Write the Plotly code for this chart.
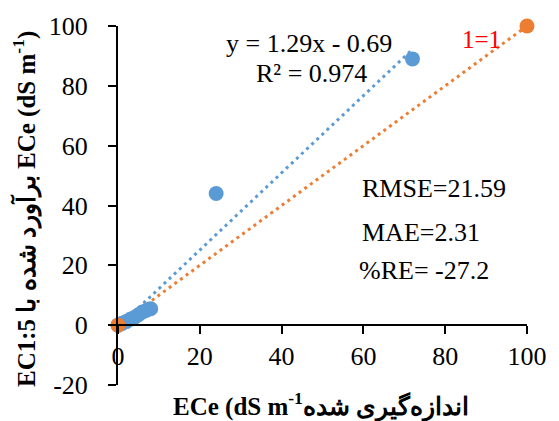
import plotly.graph_objects as go

# Data
measured = [0, 0.5, 1, 2, 3, 4, 5, 6, 7, 8, 24, 72]
estimated = [0, 0.3, 0.6, 1.2, 2.0, 2.6, 3.5, 4.4, 5.0, 5.5, 44, 89]
one_to_one_x = [0, 100]
one_to_one_y = [0, 100]
slope, intercept = 1.29, -0.69

x_ticks = [0, 20, 40, 60, 80, 100]
y_ticks = [-20, 0, 20, 40, 60, 80, 100]
y_tick_text = ["-20", "0", "20", "40", "60", "80", "100"]

BLUE = "#5B9BD5"
ORANGE = "#ED7D31"
FONT = "Liberation Serif"

trend_x = [min(measured), max(measured)]
trend_y = [slope * v + intercept for v in trend_x]

fig = go.Figure()
fig.add_trace(go.Scatter(x=trend_x, y=trend_y, mode="lines",
                         line=dict(color=BLUE, width=3, dash="3px,4px"),
                         hoverinfo="skip", cliponaxis=False))
fig.add_trace(go.Scatter(x=one_to_one_x, y=one_to_one_y, mode="lines",
                         line=dict(color=ORANGE, width=3, dash="3px,4px"),
                         hoverinfo="skip", cliponaxis=False))
fig.add_trace(go.Scatter(x=measured, y=estimated, mode="markers",
                         marker=dict(color=BLUE, size=15), cliponaxis=False))
fig.add_trace(go.Scatter(x=one_to_one_x, y=one_to_one_y, mode="markers",
                         marker=dict(color=ORANGE, size=15), cliponaxis=False))

W, H = 559, 421
ML, MR, MT, MB = 118, 23, 24, 36

fig.update_layout(
    width=W, height=H,
    margin=dict(l=ML, r=MR, t=MT, b=MB),
    plot_bgcolor="white", paper_bgcolor="white",
    showlegend=False,
    font=dict(family=FONT, size=26, color="black"),
    xaxis=dict(range=[0, 100], tickvals=x_ticks, showgrid=False, zeroline=False,
               showline=True, linecolor="black", linewidth=2,
               ticks="outside", ticklen=8, tickwidth=2, tickcolor="black",
               anchor="free", position=20 / 120,
               tickfont=dict(family=FONT, size=26, color="black")),
    yaxis=dict(range=[-20, 100], tickvals=y_ticks, ticktext=y_tick_text,
               showgrid=False, zeroline=False,
               showline=True, linecolor="black", linewidth=2,
               ticks="outside", ticklen=8, tickwidth=2, tickcolor="black",
               ticklabelstandoff=15,
               tickfont=dict(family=FONT, size=26, color="black")),
)


def page_to_paper(px, py):
    return (px - ML) / (W - ML - MR), 1 - (py - MT) / (H - MT - MB)


annos = [
    (313, 42, "y = 1.29x - 0.69", "black", 26),
    (316, 72, "R² = 0.974", "black", 26),
    (489, 38, "1=1", "red", 25),
    (441, 187, "RMSE=21.59", "black", 26),
    (428, 232, "MAE=2.31", "black", 26),
    (431, 270, "%RE= -27.2", "black", 26),
]
for px, py, txt, col, sz in annos:
    xa, ya = page_to_paper(px, py)
    fig.add_annotation(x=xa, y=ya, xref="paper", yref="paper",
                       text=txt, showarrow=False, xanchor="center", yanchor="middle",
                       font=dict(family=FONT, size=sz, color=col))

xt, yt = page_to_paper(325, 405)
fig.add_annotation(x=xt, y=yt, xref="paper", yref="paper", showarrow=False,
                   text="<b>ECe (dS m<sup>-1</sup>اندازه‌گیری شده</b>",
                   font=dict(family=FONT, size=25, color="black"),
                   xanchor="center", yanchor="middle")
xt, yt = page_to_paper(23, 208)
fig.add_annotation(x=xt, y=yt, xref="paper", yref="paper", showarrow=False,
                   text="<b>EC1:5 برآورد شده با ECe (dS m<sup>-1</sup>)</b>",
                   textangle=-90,
                   font=dict(family=FONT, size=25, color="black"),
                   xanchor="center", yanchor="middle")

fig.write_html("out.html")
